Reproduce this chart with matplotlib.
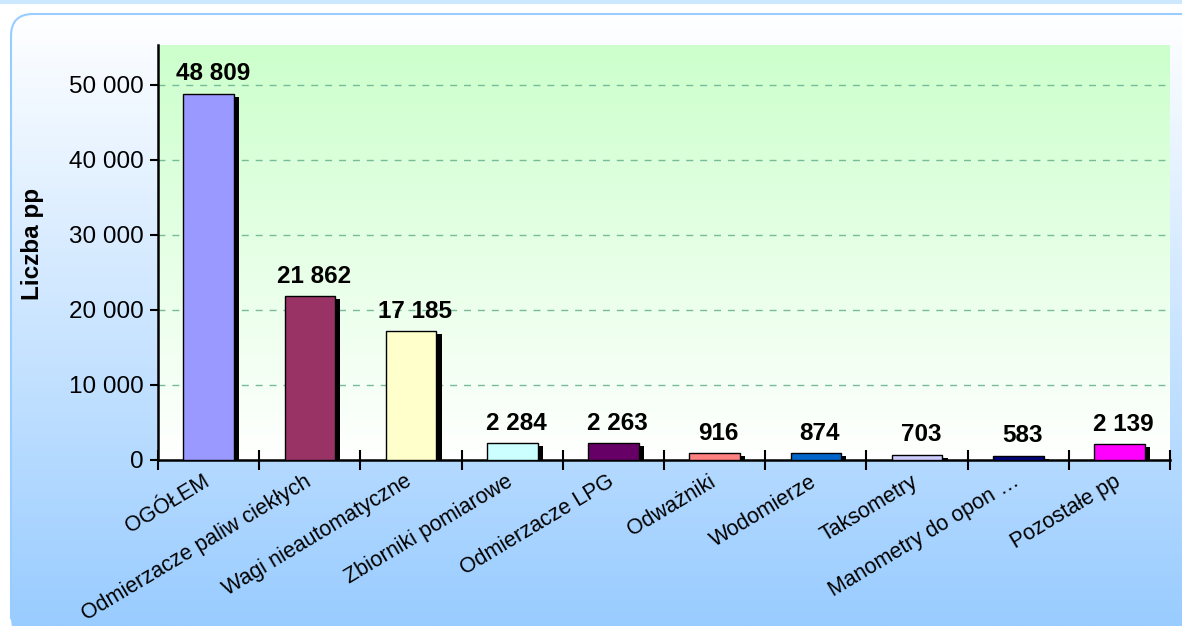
import numpy as np
import matplotlib
matplotlib.use("Agg")
import matplotlib.pyplot as plt
import matplotlib.patheffects as pe
from matplotlib.colors import LinearSegmentedColormap
from matplotlib.patches import FancyBboxPatch, Rectangle

plt.rcParams['font.family'] = ['Liberation Sans', 'DejaVu Sans']

categories = ["OGÓŁEM", "Odmierzacze paliw ciekłych", "Wagi nieautomatyczne",
              "Zbiorniki pomiarowe", "Odmierzacze LPG", "Odważniki", "Wodomierze",
              "Taksometry", "Manometry do opon …", "Pozostałe pp"]
values = [48809, 21862, 17185, 2284, 2263, 916, 874, 703, 583, 2139]
colors = ["#9999FF", "#993366", "#FFFFCC", "#CCFFFF", "#660066",
          "#FF8080", "#0066CC", "#CCCCFF", "#000080", "#FF00FF"]
yticks = [0, 10000, 20000, 30000, 40000, 50000]

W, H = 1182, 626
fig = plt.figure(figsize=(W / 100, H / 100), dpi=100)
fig.patch.set_facecolor("white")

# background: rounded box with white -> light blue gradient
bg = fig.add_axes([0, 0, 1, 1], zorder=-10)
bg.set_xlim(0, W)
bg.set_ylim(H, 0)
bg.axis("off")
bg.add_patch(Rectangle((0, 0), W, 4, facecolor="#CCE8FF", edgecolor="none"))
box = FancyBboxPatch((11, 14), W + 40, H, boxstyle="round,pad=0,rounding_size=22",
                     facecolor="none", edgecolor="#99CCFF", linewidth=1.5)
bg.add_patch(box)
cmap_bg = LinearSegmentedColormap.from_list("bgc", ["#FFFFFF", "#99CCFF"])
grad = np.linspace(0, 1, 256).reshape(-1, 1)
im = bg.imshow(grad, cmap=cmap_bg, extent=[11, W, H, 14], aspect="auto", zorder=0)
im.set_clip_path(box)

# plot area
pos = [158 / W, 1 - 460 / H, (1170 - 158) / W, (460 - 45) / H]
pa = fig.add_axes(pos, zorder=0)
pa.axis("off")
cmap_pa = LinearSegmentedColormap.from_list("pac", ["#CCFFCC", "#FFFFFF"])
pa.imshow(grad, cmap=cmap_pa, extent=[0, 1, 0, 1], aspect="auto")
pa.set_xlim(0, 1)
pa.set_ylim(0, 1)

ax = fig.add_axes(pos, zorder=1)
ax.set_facecolor("none")
x = np.arange(len(categories))
bars = ax.bar(x, values, width=0.5, color=colors, edgecolor="black", linewidth=1, zorder=3)
for b in bars:
    b.set_path_effects([pe.SimplePatchShadow(offset=(3.8, -2.2), shadow_rgbFace="black", alpha=1),
                        pe.Normal()])

for xi, v in zip(x, values):
    ax.annotate(f"{v:,}".replace(",", " "), (xi, v), xytext=(3, 6), textcoords="offset points",
                ha="center", va="bottom", fontsize=17.5, fontweight="bold")

ax.set_xlim(-0.5, len(categories) - 0.5)
ax.set_ylim(0, 55300)
ax.set_yticks(yticks)
ax.set_yticklabels([f"{t:,}".replace(",", " ") for t in yticks], fontsize=17.5)
ax.yaxis.grid(True, linestyle=(0, (5, 5)), color="#77BB99", linewidth=1)
ax.set_axisbelow(True)

ax.set_xticks(np.arange(len(categories) + 1) - 0.5)
ax.set_xticklabels([])
# labels sit a bit left of the category centre, as in the original
ax.set_xticks(x - 0.06, minor=True)
ax.set_xticklabels(categories, minor=True, rotation=31, ha="right", va="top",
                   rotation_mode="anchor", fontsize=15.5)
ax.tick_params(axis="x", which="major", direction="inout", length=15, width=1.5)
ax.tick_params(axis="x", which="minor", length=0, pad=8)
ax.tick_params(axis="y", direction="out", length=6, width=1.5, pad=4)

for s in ["top", "right"]:
    ax.spines[s].set_visible(False)
for s in ["left", "bottom"]:
    ax.spines[s].set_linewidth(1.8)

ax.set_ylabel("Liczba pp", fontsize=17.5, fontweight="bold")
ax.yaxis.set_label_coords(-0.113, 0.52)

fig.savefig("out.png", dpi=100)
